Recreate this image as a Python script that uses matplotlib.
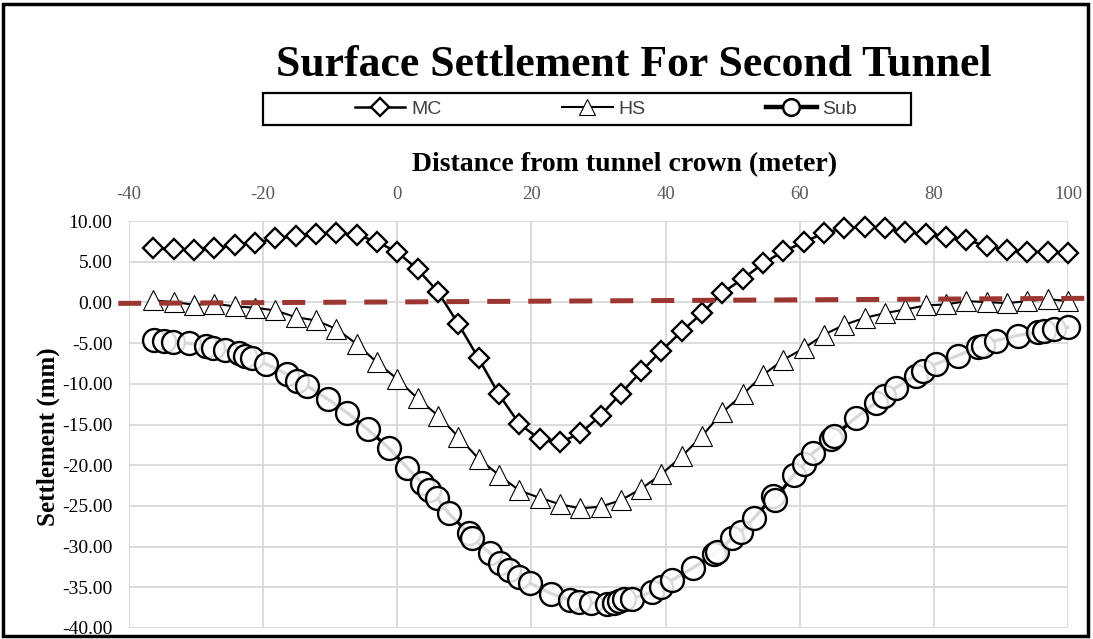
import matplotlib
matplotlib.use("Agg")
import matplotlib.pyplot as plt
from matplotlib.lines import Line2D
from matplotlib.patches import Rectangle

# ---------------- data ----------------
x_fem = [-36.36, -33.33, -30.30, -27.27, -24.24, -21.21, -18.18, -15.15, -12.12, -9.09,
         -6.06, -3.03, 0.00, 3.03, 6.06, 9.09, 12.12, 15.15, 18.18, 21.21,
         24.24, 27.27, 30.30, 33.33, 36.36, 39.39, 42.42, 45.45, 48.48, 51.52,
         54.55, 57.58, 60.61, 63.64, 66.67, 69.70, 72.73, 75.76, 78.79, 81.82,
         84.85, 87.88, 90.91, 93.94, 96.97, 100.00]

mc = [6.63, 6.50, 6.42, 6.63, 7.04, 7.32, 7.86, 8.19, 8.40, 8.48,
      8.31, 7.44, 6.17, 4.07, 1.30, -2.63, -6.87, -11.30, -14.90, -16.80,
      -17.20, -16.10, -13.90, -11.20, -8.48, -5.93, -3.54, -1.32, 1.20, 2.90,
      4.78, 6.30, 7.37, 8.56, 9.10, 9.30, 9.10, 8.60, 8.40, 8.06,
      7.65, 6.95, 6.42, 6.21, 6.21, 6.01]

hs = [0.25, 0.04, -0.28, -0.16, -0.49, -0.65, -0.99, -1.81, -2.22, -3.25,
      -5.10, -7.37, -9.42, -11.80, -13.90, -16.50, -19.20, -21.20, -23.10, -24.00,
      -24.80, -25.30, -25.10, -24.30, -22.90, -21.10, -18.90, -16.40, -13.50, -11.30,
      -8.90, -7.04, -5.64, -3.95, -2.75, -1.89, -1.32, -0.86, -0.37, -0.25,
      0.16, 0.04, -0.09, 0.16, 0.41, 0.16]

x_sub = [-36.27, -34.78, -33.39, -31.00, -28.51, -27.42, -25.67, -23.54, -22.69, -21.69,
         -19.55, -16.46, -14.97, -13.48, -10.34, -7.51, -4.43, -1.30, 1.49, 3.69,
         4.67, 5.93, 7.66, 10.64, 11.15, 13.88, 15.37, 16.61, 18.10, 19.85,
         22.94, 25.82, 27.06, 28.81, 31.30, 32.28, 33.03, 33.78, 35.03, 38.01,
         39.25, 41.00, 44.13, 47.21, 47.61, 49.96, 51.19, 53.18, 56.07, 56.27,
         59.15, 60.64, 61.94, 64.63, 65.12, 68.36, 71.34, 72.58, 74.33, 77.31,
         78.31, 80.30, 83.54, 86.52, 87.27, 89.25, 92.49, 95.48, 96.46, 97.96,
         99.96]

sub = [-4.57, -4.78, -4.90, -5.02, -5.31, -5.59, -5.84, -6.26, -6.54, -6.83,
       -7.57, -8.80, -9.63, -10.25, -11.89, -13.54, -15.59, -17.86, -20.31, -22.19,
       -23.00, -24.04, -25.89, -28.36, -28.98, -30.83, -32.06, -32.88, -33.70, -34.53,
       -35.77, -36.58, -36.79, -36.91, -37.00, -36.88, -36.70, -36.46, -36.38, -35.56,
       -34.94, -34.11, -32.59, -30.95, -30.62, -28.98, -28.15, -26.51, -23.83, -24.23,
       -21.15, -19.91, -18.52, -16.83, -16.42, -14.16, -12.31, -11.48, -10.46, -9.01,
       -8.40, -7.57, -6.54, -5.52, -5.31, -4.69, -4.07, -3.67, -3.46, -3.25,
       -3.05]

ref_x = [-41.6, 103.0]
ref_y = [-0.12, 0.50]

series_names = ["MC", "HS", "Sub"]
x_ticks = [-40, -20, 0, 20, 40, 60, 80, 100]
y_ticks = [10, 5, 0, -5, -10, -15, -20, -25, -30, -35, -40]

# ---------------- figure ----------------
W, H = 1093, 639
fig = plt.figure(figsize=(W / 100, H / 100), dpi=100)
fig.patch.set_facecolor("white")

def fx(px):
    return px / W

def fy(py):
    return 1 - py / H

ax = fig.add_axes([fx(129), fy(628), fx(1068) - fx(129), fy(221) - fy(628)])

serif = ["Liberation Serif", "DejaVu Serif"]
narrow = ["Liberation Sans Narrow", "Liberation Sans", "DejaVu Sans"]

l_mc, = ax.plot(x_fem, mc, color="black", lw=1.8, marker="D", ms=10,
                mfc="white", mec="black", mew=1.7, zorder=4, clip_on=False,
                label=series_names[0])
l_hs, = ax.plot(x_fem, hs, color="black", lw=1.5, marker="^", ms=14.5,
                mfc="white", mec="black", mew=0.8, zorder=3, clip_on=False,
                label=series_names[1])
l_sub, = ax.plot(x_sub, sub, color="black", lw=2.4, marker="o", ms=16.5,
                 mfc=(1, 1, 1, 0.85), mec="black", mew=1.7, zorder=3,
                 clip_on=False, label=series_names[2])
ax.plot(ref_x, ref_y, color="#9b3631", lw=3.6, dashes=(4.6, 3.6),
        solid_capstyle="butt", dash_capstyle="butt", zorder=5, clip_on=False)

ax.set_xlim(-40, 100)
ax.set_ylim(-40, 10)
ax.set_xticks(x_ticks)
ax.set_xticklabels([str(v) for v in x_ticks])
ax.set_yticks(y_ticks)
ax.set_yticklabels([f"{v:.2f}" for v in y_ticks])
ax.xaxis.tick_top()
ax.xaxis.set_label_position("top")
ax.tick_params(axis="both", length=0)
ax.tick_params(axis="x", pad=13, labelsize=13.5, labelcolor="#595959")
ax.tick_params(axis="y", pad=12, labelsize=14, labelcolor="black")
for lab in ax.get_xticklabels() + ax.get_yticklabels():
    lab.set_family(serif)

ax.grid(True, color="#d9d9d9", lw=1.3)
ax.set_axisbelow(True)
for s in ax.spines.values():
    s.set_visible(False)

ax.set_xlabel("Distance from tunnel crown (meter)", family=serif,
              fontweight="bold", fontsize=20)
ax.xaxis.set_label_coords((625 - 129) / 939, (628 - 165) / 407)
ax.xaxis.label.set_va("center")

ax.set_ylabel("Settlement (mm)", family=serif, fontweight="bold", fontsize=18)
ax.yaxis.set_label_coords((48 - 129) / 939, (628 - 437) / 407)
ax.yaxis.label.set_va("center")

fig.text(fx(634), fy(65), "Surface Settlement For Second Tunnel",
         ha="center", va="center", family=serif, fontweight="bold", fontsize=31.5)

# legend
h_mc = Line2D([], [], color="black", lw=1.8, marker="D", ms=9, mfc="white",
              mec="black", mew=1.7)
h_hs = Line2D([], [], color="black", lw=1.5, marker="^", ms=12, mfc="white",
              mec="black", mew=0.8)
h_sub = Line2D([], [], color="black", lw=3.2, marker="o", ms=12, mfc="white",
               mec="black", mew=1.8)
leg = fig.legend([h_mc, h_hs, h_sub], series_names, loc="center",
                 bbox_to_anchor=(fx(606), fy(109)), ncol=3, frameon=False,
                 prop={"family": narrow, "size": 14}, handlelength=2.6,
                 handletextpad=0.3, columnspacing=6.2)
for t in leg.get_texts():
    t.set_color("#404040")
fig.add_artist(Rectangle((fx(263), fy(125)), fx(911) - fx(263), fy(93) - fy(125),
                         transform=fig.transFigure, fill=False,
                         edgecolor="black", lw=1.6))

# outer chart border
fig.add_artist(Rectangle((fx(3), fy(636)), fx(1088) - fx(3), fy(4) - fy(636),
                         transform=fig.transFigure, fill=False,
                         edgecolor="black", lw=2.5))

fig.savefig("out.png", dpi=100, facecolor="white")
